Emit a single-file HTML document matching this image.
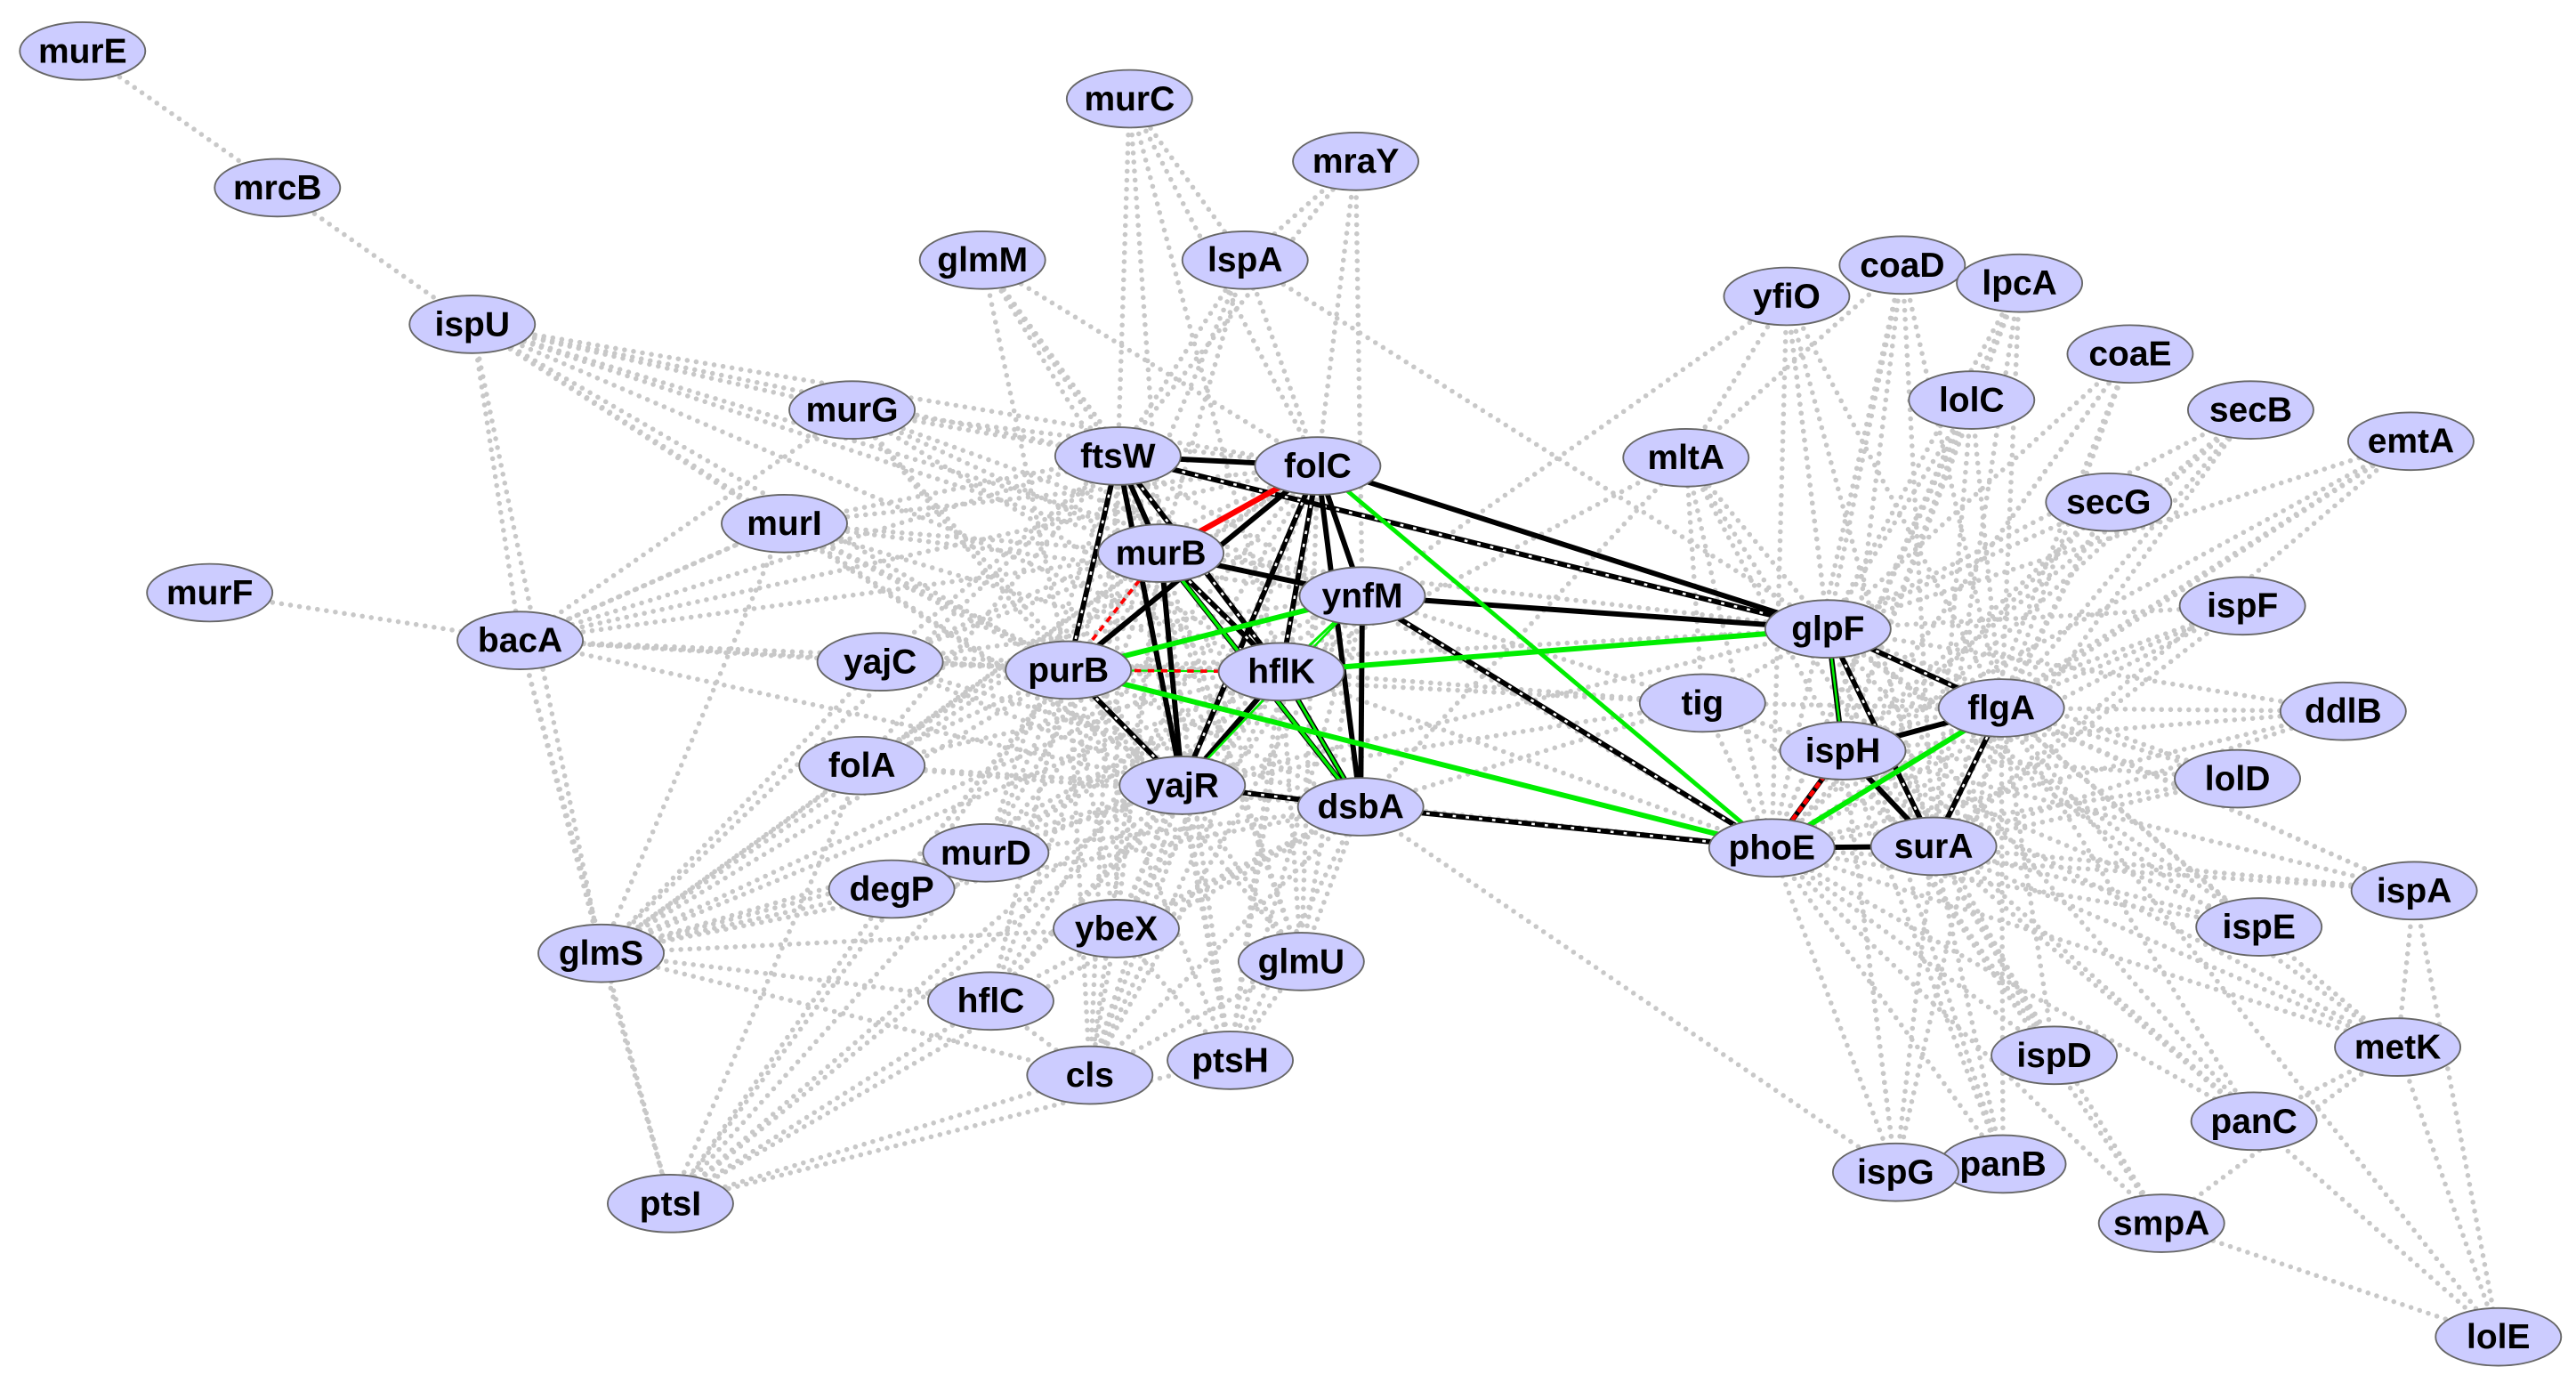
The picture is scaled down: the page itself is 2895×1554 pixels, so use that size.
<!DOCTYPE html>
<html><head><meta charset="utf-8"><style>
html,body{margin:0;padding:0;background:#fff;}
svg{display:block;}
text{font-family:"Liberation Sans Narrow","Liberation Sans",sans-serif;font-size:21px;fill:#000;font-weight:bold;}
</style></head><body>
<svg id="s" width="2895" height="1554" viewBox="0 0 1560 840" preserveAspectRatio="none" xmlns="http://www.w3.org/2000/svg">
<g id="gray" stroke="#c8c8c8" stroke-width="3" stroke-linecap="round" stroke-dasharray="0 5.5" fill="none"></g>
<g id="col" fill="none"></g>
<g id="nodes"></g>
</svg>
<script>
var N={murE:[50,31],mrcB:[168,114],ispU:[286,197],murC:[684,60],mraY:[821,98],glmM:[595,158],lspA:[754,158],murG:[516,249],ftsW:[677,277],folC:[798,283],murI:[475,318],murF:[127,360],bacA:[315,389],yajC:[533,402],murB:[703,336],ynfM:[825,362],purB:[647,407],hflK:[776,408],folA:[522,465],yajR:[716,477],dsbA:[824,490],murD:[597,518],degP:[540,540],ybeX:[676,564],glmS:[364,579],hflC:[600,608],glmU:[788,584],cls:[660,653],ptsH:[745,644],ptsI:[406,731],yfiO:[1082,180],coaD:[1152,161],lpcA:[1223,172],coaE:[1290,215],lolC:[1194,243],secB:[1363,249],emtA:[1460,268],mltA:[1021,278],secG:[1277,305],ispF:[1358,368],glpF:[1107,382],tig:[1031,427],flgA:[1212,430],ddlB:[1419,432],ispH:[1116,456],lolD:[1355,473],phoE:[1073,515],surA:[1171,514],ispA:[1462,541],ispE:[1368,563],metK:[1452,636],ispD:[1244,641],panC:[1365,681],panB:[1213,707],ispG:[1148,712],smpA:[1309,743],lolE:[1513,812]};
var G="murE-mrcB mrcB-ispU ispU-bacA ispU-murG ispU-ftsW ispU-folC ispU-murB ispU-purB ispU-hflK ispU-ynfM ispU-yajR ispU-murI murC-lspA murC-ftsW murC-folC murC-murB murC-hflK mraY-lspA mraY-folC mraY-ynfM mraY-ftsW glmM-ftsW glmM-folC glmM-murB glmM-purB glmM-hflK lspA-ftsW lspA-folC lspA-murB lspA-purB lspA-glpF murG-ftsW murG-folC murG-murB murG-purB murG-hflK murG-ynfM murG-yajR murI-ftsW murI-folC murI-murB murI-purB murI-hflK murI-ynfM murI-yajR murI-dsbA murI-glmS murF-bacA bacA-ftsW bacA-murB bacA-purB bacA-hflK bacA-folC bacA-yajR bacA-glmS bacA-ptsI bacA-murI yajC-ftsW yajC-murB yajC-purB yajC-hflK yajC-folC yajC-ynfM yajC-yajR yajC-dsbA folA-ftsW folA-murB folA-purB folA-hflK folA-folC folA-yajR folA-dsbA folA-ptsI murD-ftsW murD-murB murD-purB murD-hflK murD-folC murD-ynfM murD-yajR murD-dsbA degP-purB degP-hflK degP-yajR degP-murB degP-glmS ybeX-purB ybeX-hflK ybeX-yajR ybeX-murB ybeX-ynfM ybeX-folC ybeX-dsbA ybeX-ftsW glmS-purB glmS-hflK glmS-yajR glmS-murB glmS-ynfM glmS-folC glmS-dsbA glmS-ftsW glmS-ptsI glmS-ispU hflC-purB hflC-hflK hflC-yajR hflC-murB hflC-ynfM hflC-folC hflC-dsbA hflC-ftsW glmU-purB glmU-hflK glmU-yajR glmU-murB glmU-ynfM glmU-folC glmU-dsbA glmU-ftsW cls-purB cls-hflK cls-yajR cls-murB cls-ynfM cls-folC cls-dsbA cls-ftsW cls-ptsI cls-glmS ptsH-purB ptsH-hflK ptsH-yajR ptsH-murB ptsH-ynfM ptsH-folC ptsH-dsbA ptsH-ftsW ptsH-ptsI ptsI-purB ptsI-hflK ptsI-yajR ptsI-dsbA yfiO-glpF yfiO-ispH yfiO-phoE yfiO-surA yfiO-flgA yfiO-ynfM coaD-glpF coaD-ispH coaD-phoE coaD-surA coaD-flgA lpcA-glpF lpcA-ispH lpcA-phoE lpcA-surA lpcA-flgA coaE-glpF coaE-ispH coaE-phoE coaE-surA coaE-flgA lolC-glpF lolC-ispH lolC-phoE lolC-surA lolC-flgA secB-glpF secB-ispH secB-phoE secB-surA secB-flgA emtA-glpF emtA-ispH emtA-phoE emtA-surA emtA-flgA mltA-glpF mltA-ispH mltA-phoE mltA-surA mltA-hflK mltA-dsbA secG-glpF secG-ispH secG-phoE secG-surA secG-flgA ispF-glpF ispF-ispH ispF-phoE ispF-surA ispF-flgA tig-glpF tig-ispH tig-phoE tig-surA tig-flgA tig-hflK tig-purB tig-dsbA tig-yajR ddlB-glpF ddlB-ispH ddlB-phoE ddlB-surA ddlB-flgA lolD-glpF lolD-ispH lolD-phoE lolD-surA lolD-flgA ispA-glpF ispA-ispH ispA-phoE ispA-surA ispA-flgA ispA-metK ispA-lolE ispE-glpF ispE-ispH ispE-phoE ispE-surA ispE-flgA metK-glpF metK-ispH metK-phoE metK-surA metK-flgA metK-panC metK-lolE metK-smpA ispD-glpF ispD-ispH ispD-phoE ispD-surA ispD-flgA panC-glpF panC-ispH panC-phoE panC-surA panC-flgA panC-lolE panB-ispH panB-phoE panB-surA panB-flgA panB-glpF ispG-ispH ispG-phoE ispG-surA ispG-flgA ispG-glpF ispG-dsbA smpA-phoE smpA-surA smpA-lolE smpA-ispH lolE-flgA purB-phoE yajR-phoE hflK-phoE murB-glpF ftsW-phoE murD-ptsI degP-ptsI hflC-ptsI folA-glmS yajC-glmS murD-glmS hflC-glmS ybeX-glmS ybeX-cls hflC-cls glmU-cls glmU-ptsH ybeX-ptsH murI-bacA murG-bacA yajC-bacA mltA-yfiO mltA-coaD tig-mltA tig-ynfM purB-glpF yajR-glpF";
var NS="http://www.w3.org/2000/svg";
function ln(par,a,b,st){var l=document.createElementNS(NS,"line");l.setAttribute("x1",N[a][0]);l.setAttribute("y1",N[a][1]);l.setAttribute("x2",N[b][0]);l.setAttribute("y2",N[b][1]);for(var k in st)l.setAttribute(k,st[k]);par.appendChild(l);}
var g=document.getElementById("gray");
G.split(" ").forEach(function(e){var p=e.split("-");ln(g,p[0],p[1],{});});
var c=document.getElementById("col");
var blk=[["ftsW","folC",0],["ftsW","murB",0],["ftsW","yajR",0],["ftsW","glpF",1],["ftsW","purB",1],["ftsW","hflK",1],["folC","murB",0],["folC","ynfM",0],["folC","dsbA",0],["folC","glpF",0],["folC","hflK",1],["folC","purB",0],["folC","yajR",1],["murB","ynfM",0],["murB","hflK",1],["murB","yajR",0],["ynfM","glpF",0],["ynfM","dsbA",0],["ynfM","phoE",1],["purB","yajR",1],["hflK","dsbA",1],["hflK","yajR",0],["yajR","dsbA",1],["dsbA","phoE",1],["glpF","ispH",0],["glpF","flgA",1],["glpF","surA",1],["ispH","flgA",0],["ispH","phoE",0],["ispH","surA",0],["phoE","surA",0],["surA","flgA",1],["murB","dsbA",1]];
blk.forEach(function(e){ln(c,e[0],e[1],{stroke:"#000","stroke-width":3.2});if(e[2])ln(c,e[0],e[1],{stroke:"#fff","stroke-width":1.4,"stroke-dasharray":"2 6"});});
var grn=[["folC","phoE",2.6],["hflK","glpF",3.2],["purB","ynfM",3.2],["murB","dsbA",2],["ynfM","hflK",1.6],["purB","phoE",3.2],["hflK","dsbA",1.6],["flgA","phoE",3.2],["glpF","ispH",1.4],["yajR","ynfM",1.4],["purB","hflK",1.2]];
grn.forEach(function(e){ln(c,e[0],e[1],{stroke:"#00ee00","stroke-width":e[2]});});
ln(c,"folC","murB",{stroke:"#ff0000","stroke-width":3.5});
ln(c,"murB","purB",{stroke:"#ff0000","stroke-width":2,"stroke-dasharray":"4 3"});
ln(c,"purB","hflK",{stroke:"#ff0000","stroke-width":2,"stroke-dasharray":"4 4"});
ln(c,"ispH","phoE",{stroke:"#ff0000","stroke-width":2.5,"stroke-dasharray":"4 2"});
var nd=document.getElementById("nodes");
for(var k in N){var e=document.createElementNS(NS,"ellipse");e.setAttribute("cx",N[k][0]);e.setAttribute("cy",N[k][1]);e.setAttribute("rx",38);e.setAttribute("ry",17.5);e.setAttribute("fill","#ccccff");e.setAttribute("stroke","#666");e.setAttribute("stroke-width",1);nd.appendChild(e);
var t=document.createElementNS(NS,"text");t.setAttribute("x",N[k][0]);t.setAttribute("y",N[k][1]+7);t.setAttribute("text-anchor","middle");t.textContent=k;nd.appendChild(t);}
</script>
</body></html>
